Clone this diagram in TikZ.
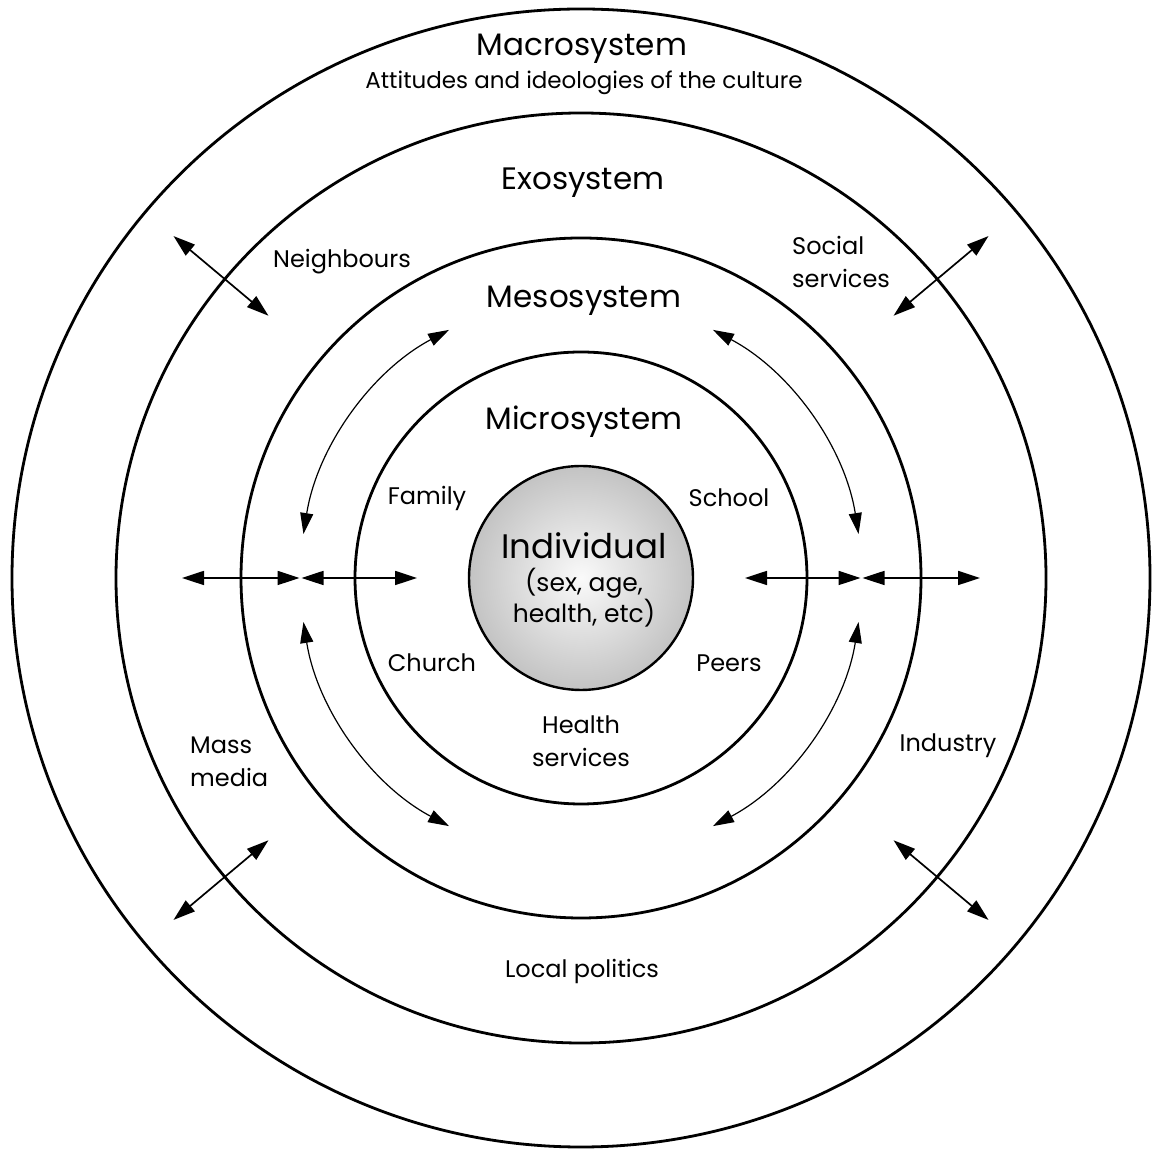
\documentclass[tikz,border=0pt]{standalone}
\usepackage{fontspec}
\setmainfont{Poppins}
\usetikzlibrary{arrows.meta,calc}
\pgfdeclareradialshading{indivshade}{\pgfpoint{0bp}{0bp}}{color(0bp)=(black!2); color(50bp)=(black!45); color(75bp)=(black!45)}
\begin{document}
\begin{tikzpicture}[x=1pt,y=1pt,
  ring/.style={circle, draw, line width=2.8pt, inner sep=0pt},
  dbl/.style={{Triangle[length=22pt,width=14pt]}-{Triangle[length=22pt,width=14pt]}, line width=1.7pt},
  arcarrow/.style={{Triangle[length=21pt,width=13pt]}-{Triangle[length=21pt,width=13pt]}, line width=1.2pt},
  title/.style={font=\fontsize{31}{36}\selectfont, inner sep=0pt},
  sub/.style={font=\fontsize{23}{28}\selectfont, inner sep=0pt},
  lab/.style={font=\fontsize{24}{33}\selectfont, align=center, inner sep=0pt},
  labl/.style={font=\fontsize{24}{33}\selectfont, align=left, inner sep=0pt},
]
\useasboundingbox (0,0) rectangle (1153,1148);
\coordinate (C) at (581,570);
% rings
\node[ring, minimum size=1138pt] (macro) at (C) {};
\node[ring, minimum size=930pt] (exo) at (C) {};
\node[ring, minimum size=680pt] (meso) at (C) {};
\node[ring, minimum size=452pt] (micro) at (C) {};
\node[circle, draw, line width=2.4pt, inner sep=0pt, minimum size=224pt, shading=indivshade] (indiv) at (C) {};

% straight diagonal arrows across exosystem ring
\foreach \a/\n in {140/tl,40/tr,220/bl,320/br}{
  \coordinate (\n o) at ($(C)+(\a:532)$);
  \coordinate (\n i) at ($(C)+(\a:408)$);
  \draw[dbl] (\n o) -- (\n i);
}
% horizontal arrows
\foreach \a/\n in {180/l,0/r}{
  \coordinate (\n 1) at ($(C)+(\a:399)$);
  \coordinate (\n 2) at ($(C)+(\a:281.5)$);
  \coordinate (\n 4) at ($(C)+(\a:279.5)$);
  \coordinate (\n 3) at ($(C)+(\a:164)$);
  \draw[dbl] (\n 1) -- (\n 2);
  \draw[dbl] (\n 4) -- (\n 3);
}
% curved arrows in mesosystem ring
\foreach \s/\e/\n in {118/171/atl,62/9/atr,189/242/abl,351/298/abr}{
  \coordinate (\n) at ($(C)+(\s:281)$);
  \draw[arcarrow] (\n) arc[start angle=\s, end angle=\e, radius=281];
}

% texts
\node[title] (tmacro) at (582,1099) {Macrosystem};
\node[sub] (tatt) at (584,1065) {Attitudes and ideologies of the culture};
\node[title] (texo) at (583,965) {Exosystem};
\node[title] (tmeso) at (584,847) {Mesosystem};
\node[title] (tmicro) at (584,726) {Microsystem};
\node[lab] (tneigh) at (342,886) {Neighbours};
\node[labl, anchor=west] (tsoc) at (792,886) {Social\\services};
\node[lab] (tfam) at (427,650) {Family};
\node[lab] (tsch) at (729,650) {School};
\node[font=\fontsize{34}{38}\selectfont, inner sep=0pt] (tind) at (584,602) {Individual};
\node[font=\fontsize{25}{31}\selectfont, align=center, inner sep=0pt] (tindsub) at (584,550) {(sex, age,\\health, etc)};
\node[lab] (tchu) at (432,485) {Church};
\node[lab] (tpeer) at (729,485) {Peers};
\node[lab] (thealth) at (581,407) {Health\\services};
\node[labl, anchor=west] (tmass) at (190,386) {Mass\\media};
\node[lab] (tind2) at (948,402) {Industry};
\node[lab] (tlocal) at (582,177) {Local politics};
\end{tikzpicture}
\end{document}
